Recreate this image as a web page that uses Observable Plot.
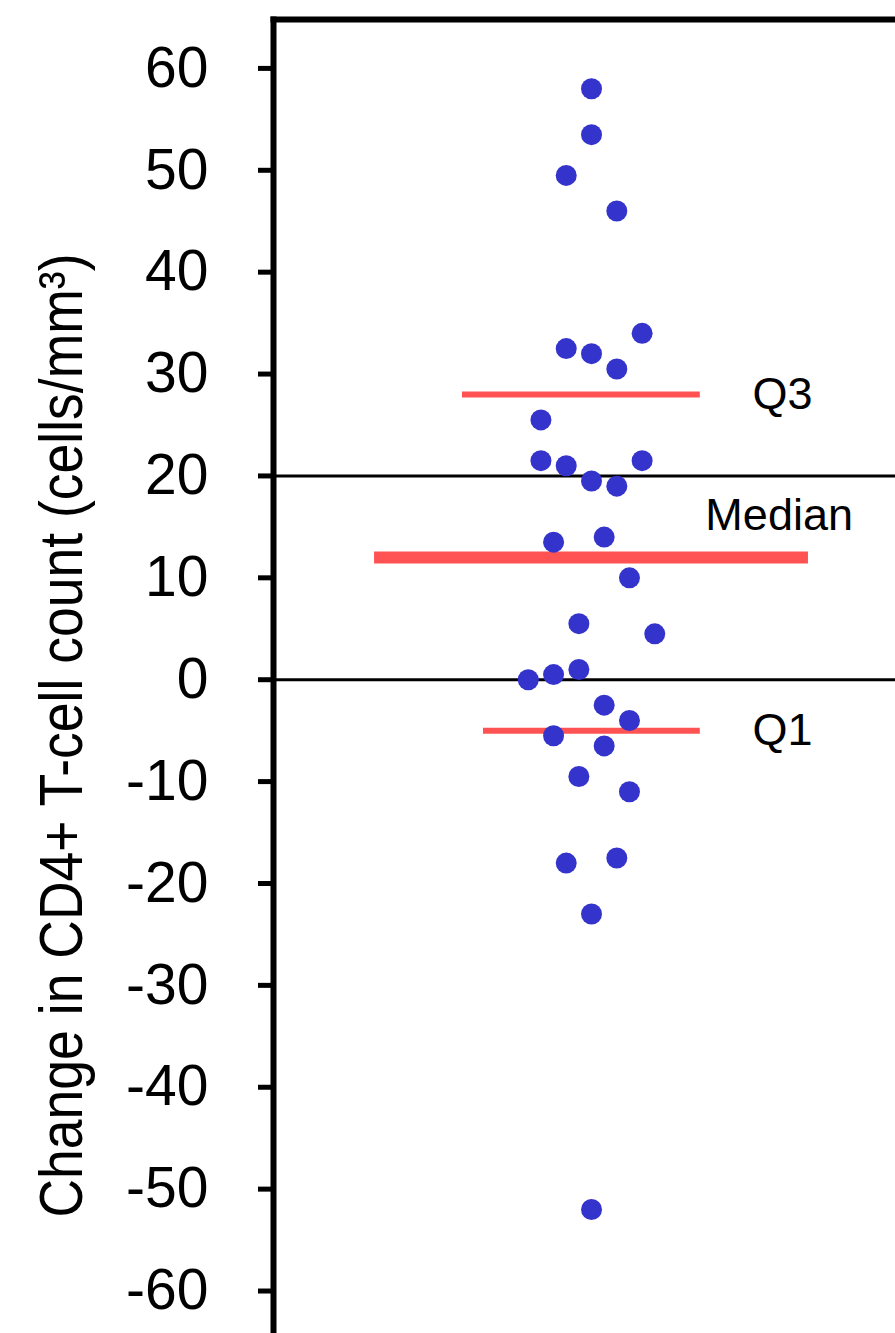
<!DOCTYPE html>
<html><head><meta charset="utf-8">
<script src="https://cdn.jsdelivr.net/npm/d3@7"></script>
<script src="https://cdn.jsdelivr.net/npm/@observablehq/plot@0.6"></script>
<style>html,body{margin:0;padding:0;background:#fff;} svg{display:block}</style>
</head><body><div id="chart"></div>
<script>
// Jitter slot (horizontal column) of each patient and change in CD4+ count
const slots  = [0, 0, -2, 2, 4, -2, 0, 2, -4, -4, -2, 4, 0, 2, -3, 1, 3, -1, 5, -5, -3, -1, 1, 3, -3, 1, -1, 3, -2, 2, 0, 0];
const values = [58, 53.5, 49.5, 46, 34, 32.5, 32, 30.5, 25.5, 21.5, 21, 21.5, 19.5, 19, 13.5, 14, 10, 5.5, 4.5, 0, 0.5, 1, -2.5, -4, -5.5, -6.5, -9.5, -11, -18, -17.5, -23, -52];

// Summary statistics
const statNames  = ["Q3", "Median", "Q1"];
const statValues = [28, 12, -5];
const statX1     = [-10.2, -17.15, -8.54];
const statX2     = [8.6, 17.15, 8.6];
const statLabelX = [12.73, 9.0, 12.73];
const statLabelY = [28, 16.1, -5];

const refLines = [20, 0];
const yTicks = [60, 50, 40, 30, 20, 10, 0, -10, -20, -30, -40, -50, -60];
const yTitle = "Change in CD4+ T-cell count (cells/mm³)";

const pts = values.map((v, i) => ({slot: slots[i], value: v}));
const stats = statNames.map((n, i) => ({name: n, value: statValues[i], x1: statX1[i], x2: statX2[i], lx: statLabelX[i], ly: statLabelY[i]}));

const red = "#ff5252";
const blue = "#3434cc";

const plot = Plot.plot({
  width: 895,
  height: 1333,
  marginLeft: 273,
  marginRight: 0,
  marginTop: 19,
  marginBottom: 0,
  style: {fontFamily: "'Liberation Sans', Arial, Helvetica, sans-serif", background: "#fff", overflow: "visible", color: "#000"},
  x: {domain: [-25.14, 24.03], axis: null},
  y: {domain: [-64.17, 64.8], axis: null},
  marks: [
    Plot.axisY({ticks: yTicks, tickFormat: d => String(d), tickSize: 15, tickPadding: 50, fontSize: 57, strokeWidth: 5, label: null, stroke: "#000", fill: "#000"}),
    Plot.ruleY(refLines, {stroke: "#000", strokeWidth: 3}),
    Plot.ruleY(stats.filter(d => d.name !== "Median"), {y: "value", x1: "x1", x2: "x2", stroke: red, strokeWidth: 6}),
    Plot.ruleY(stats.filter(d => d.name === "Median"), {y: "value", x1: "x1", x2: "x2", stroke: red, strokeWidth: 12}),
    Plot.dot(pts, {x: "slot", y: "value", r: 10.5, fill: blue, stroke: "none"}),
    Plot.text(stats, {x: "lx", y: "ly", text: "name", textAnchor: "start", fontSize: 45, fill: "#000"}),
    Plot.text([yTitle], {text: d => d, y: () => -52.79, frameAnchor: "left", textAnchor: "start", rotate: -90, dx: -211, fontSize: 61, fill: "#000", className: "ytitle"}),
    Plot.frame({anchor: "top", stroke: "#000", strokeWidth: 6}),
    Plot.frame({anchor: "left", stroke: "#000", strokeWidth: 6})
  ]
});
d3.select(plot).selectAll(".ytitle text").attr("textLength", 964).attr("lengthAdjust", "spacingAndGlyphs");
document.getElementById("chart").appendChild(plot);
</script>
</body></html>
